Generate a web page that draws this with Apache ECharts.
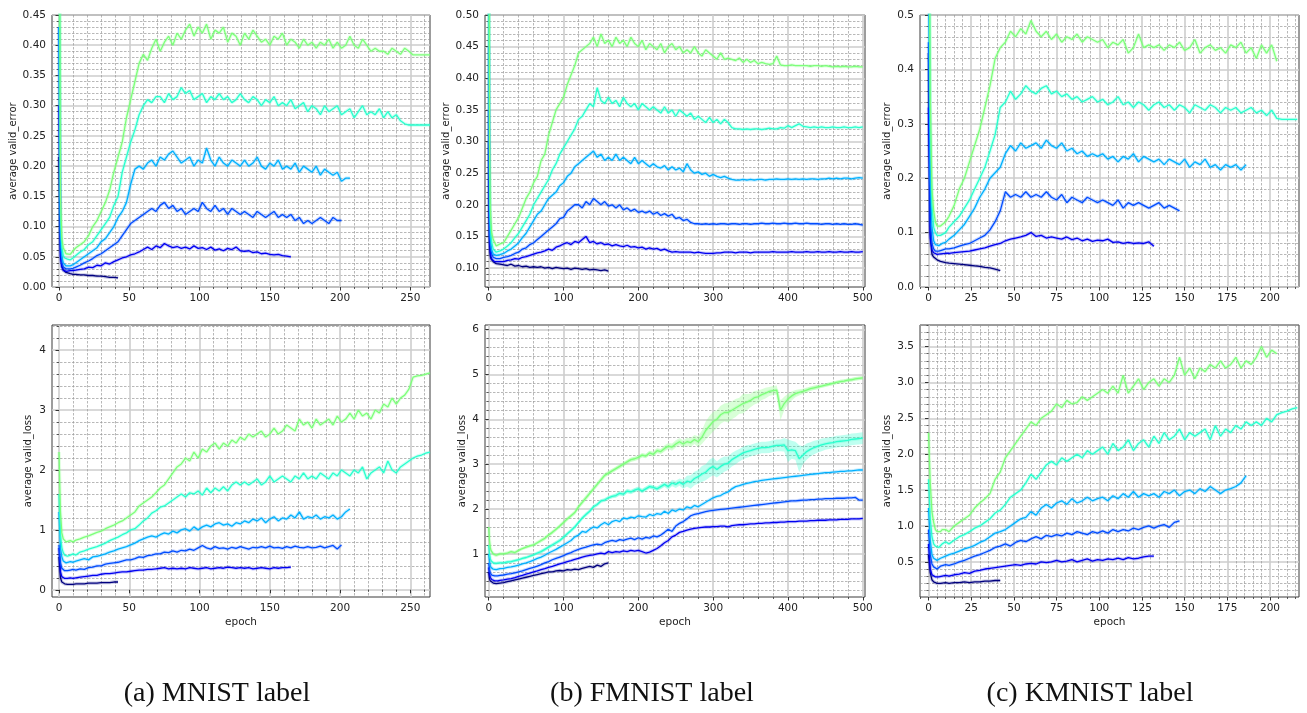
<!DOCTYPE html>
<html><head><meta charset="utf-8">
<script src="https://cdn.jsdelivr.net/npm/echarts@6/dist/echarts.min.js"></script>
<style>html,body{margin:0;padding:0;background:#fff}#c{width:1307px;height:713px}</style>
</head><body><div id="c"></div>
<script>
// ---------------- colours (navy -> light green, jet-like) ----------------
const COLORS = ['#00007f','#0000f1','#004cff','#00b0ff','#29ffce','#7dff7a'];

// ---------------- epochs (sample positions) ----------------
const E_M = [0,1,2,3,4,5,6,8,10,12,15,18,21,24,27,30,33,36,39,42,45,48,51,54,57,60,63,66,69,72,75,78,81,84,87,90,93,96,99,102,105,108,111,114,117,120,123,126,129,132,135,138,141,144,147,150,153,156,159,162,165,168,171,174,177,180,183,186,189,192,195,198,201,204,207,210,213,216,219,222,225,228,231,234,237,240,243,246,249,252,255,258,261,264];
const E_F = [0,1,2,3,4,6,8,10,12,15,20,25,30,35,40,45,50,55,60,65,70,75,80,85,90,95,100,105,110,115,120,125,130,135,140,145,150,155,160,165,170,175,180,185,190,195,200,205,210,215,220,225,230,235,240,245,250,255,260,265,270,275,280,285,290,295,300,305,310,315,320,325,330,335,340,345,350,355,360,365,370,375,380,385,390,395,400,405,410,415,420,425,430,435,440,445,450,455,460,465,470,475,480,485,490,495,500];
const E_K = [0,1,2,3,4,5,6,7,8,10,12,15,18,21,24,27,30,33,36,39,42,45,48,51,54,57,60,63,66,69,72,75,78,81,84,87,90,93,96,99,102,105,108,111,114,117,120,123,126,129,132,135,138,141,144,147,150,153,156,159,162,165,168,171,174,177,180,183,186,189,192,195,198,201,204,207,210,213,216];

// ---------------- tick labels ----------------
const xTicksM = [0,50,100,150,200,250];
const xTicksF = [0,100,200,300,400,500];
const xTicksK = [0,25,50,75,100,125,150,175,200];
const yTicksErrM = [0,0.05,0.10,0.15,0.20,0.25,0.30,0.35,0.40,0.45];
const yTicksErrF = [0.10,0.15,0.20,0.25,0.30,0.35,0.40,0.45,0.50];
const yTicksErrK = [0,0.1,0.2,0.3,0.4,0.5];
const yTicksLossM = [0,1,2,3,4];
const yTicksLossF = [1,2,3,4,5,6];
const yTicksLossK = [0.5,1.0,1.5,2.0,2.5,3.0,3.5];

// ---------------- MNIST valid error ----------------
const mErrNavy = [0.215,0.06,0.035,0.028,0.025,0.024,0.023,0.022,0.021,
0.021,0.02,0.02,0.019,0.019,0.018,0.018,0.017,0.016,0.016,0.015];
const mErrBlue = [0.3,0.05,0.033,0.028,0.027,0.026,0.026,0.027,0.027,
0.028,0.029,0.03,0.033,0.032,0.036,0.035,0.04,0.038,0.042,
0.045,0.048,0.05,0.053,0.055,0.058,0.062,0.066,0.062,0.068,
0.065,0.072,0.068,0.065,0.067,0.064,0.066,0.063,0.068,0.064,
0.065,0.062,0.066,0.061,0.063,0.06,0.064,0.062,0.066,0.06,
0.059,0.06,0.057,0.058,0.055,0.056,0.054,0.053,0.054,0.052,
0.051,0.05];
const mErrMed = [0.43,0.07,0.04,0.033,0.031,0.03,0.03,0.03,0.031,
0.033,0.036,0.04,0.043,0.047,0.052,0.055,0.06,0.065,0.07,
0.075,0.085,0.095,0.105,0.11,0.115,0.12,0.125,0.13,0.125,
0.135,0.14,0.13,0.135,0.125,0.13,0.12,0.125,0.13,0.125,
0.14,0.13,0.125,0.135,0.125,0.13,0.12,0.13,0.125,0.12,
0.125,0.12,0.115,0.125,0.12,0.115,0.12,0.125,0.115,0.12,
0.115,0.12,0.11,0.115,0.105,0.11,0.105,0.11,0.115,0.11,
0.105,0.115,0.11,0.11];
const mErrSky = [0.43,0.09,0.05,0.04,0.037,0.035,0.036,0.035,0.037,
0.04,0.045,0.05,0.055,0.06,0.065,0.075,0.08,0.09,0.10,
0.115,0.125,0.14,0.17,0.195,0.20,0.195,0.205,0.21,0.20,
0.215,0.21,0.22,0.225,0.215,0.205,0.21,0.215,0.20,0.21,
0.205,0.23,0.21,0.20,0.215,0.205,0.20,0.21,0.205,0.20,
0.21,0.20,0.205,0.215,0.20,0.195,0.205,0.20,0.21,0.195,
0.20,0.195,0.205,0.19,0.20,0.195,0.19,0.20,0.185,0.195,
0.19,0.185,0.19,0.175,0.18,0.18];
const mErrCyan = [0.85,0.12,0.065,0.052,0.048,0.045,0.046,0.045,0.048,
0.052,0.058,0.062,0.07,0.075,0.085,0.095,0.105,0.115,0.135,
0.15,0.19,0.215,0.24,0.26,0.285,0.30,0.31,0.305,0.315,
0.315,0.305,0.32,0.31,0.315,0.33,0.32,0.325,0.31,0.315,
0.32,0.305,0.315,0.31,0.32,0.31,0.315,0.305,0.31,0.32,
0.31,0.305,0.315,0.31,0.30,0.31,0.305,0.315,0.30,0.305,
0.30,0.31,0.295,0.30,0.305,0.29,0.30,0.295,0.285,0.30,
0.29,0.295,0.30,0.285,0.29,0.295,0.28,0.29,0.30,0.285,
0.29,0.285,0.295,0.28,0.29,0.28,0.285,0.275,0.27,0.268,
0.268,0.268,0.268,0.268,0.268];
const mErrGreen = [0.9,0.15,0.08,0.065,0.06,0.055,0.057,0.054,0.06,
0.065,0.07,0.075,0.085,0.1,0.11,0.125,0.14,0.16,0.19,
0.215,0.24,0.28,0.31,0.34,0.37,0.385,0.375,0.395,0.41,
0.39,0.405,0.415,0.40,0.42,0.41,0.425,0.435,0.415,0.43,
0.42,0.435,0.41,0.425,0.42,0.43,0.405,0.42,0.415,0.40,
0.42,0.41,0.425,0.415,0.405,0.41,0.40,0.415,0.41,0.42,
0.40,0.41,0.405,0.395,0.41,0.40,0.405,0.395,0.405,0.40,
0.41,0.395,0.405,0.395,0.40,0.415,0.40,0.395,0.41,0.40,
0.39,0.395,0.39,0.39,0.385,0.395,0.39,0.385,0.395,0.39,
0.384,0.384,0.384,0.384,0.384];

// ---------------- MNIST valid loss ----------------
const mLossNavy = [0.55,0.2,0.13,0.11,0.1,0.1,0.09,0.09,0.09,
0.1,0.1,0.1,0.11,0.11,0.11,0.12,0.12,0.12,0.13,0.13];
const mLossBlue = [0.7,0.3,0.22,0.2,0.19,0.19,0.19,0.2,0.19,
0.2,0.21,0.22,0.23,0.24,0.24,0.26,0.27,0.27,0.28,
0.29,0.3,0.3,0.31,0.32,0.33,0.33,0.34,0.34,0.35,
0.36,0.37,0.35,0.36,0.35,0.36,0.35,0.37,0.36,0.35,
0.36,0.37,0.35,0.36,0.37,0.36,0.38,0.37,0.36,0.37,
0.36,0.37,0.35,0.36,0.37,0.36,0.35,0.37,0.36,0.37,
0.37,0.38];
const mLossMed = [0.75,0.45,0.36,0.33,0.32,0.32,0.32,0.33,0.34,
0.33,0.35,0.34,0.37,0.38,0.4,0.4,0.43,0.44,0.45,
0.46,0.48,0.5,0.5,0.52,0.55,0.54,0.57,0.58,0.6,
0.6,0.63,0.62,0.65,0.63,0.66,0.65,0.68,0.66,0.7,
0.74,0.7,0.68,0.72,0.69,0.7,0.68,0.71,0.69,0.72,
0.7,0.68,0.71,0.7,0.72,0.7,0.73,0.7,0.71,0.69,
0.72,0.7,0.73,0.71,0.7,0.72,0.7,0.71,0.73,0.7,
0.72,0.74,0.68,0.75];
const mLossSky = [1.3,0.7,0.55,0.48,0.46,0.45,0.45,0.47,0.46,
0.48,0.5,0.52,0.5,0.55,0.56,0.58,0.6,0.63,0.65,
0.68,0.7,0.72,0.75,0.78,0.82,0.85,0.88,0.9,0.88,
0.92,0.95,0.93,0.98,0.95,1.0,1.02,0.98,1.05,1.0,
1.05,1.08,1.05,1.1,1.12,1.08,1.1,1.06,1.12,1.1,
1.15,1.12,1.18,1.15,1.2,1.12,1.18,1.22,1.15,1.2,
1.18,1.25,1.2,1.3,1.18,1.22,1.2,1.25,1.18,1.22,
1.2,1.25,1.18,1.22,1.3,1.35];
const mLossCyan = [1.6,0.9,0.7,0.62,0.58,0.57,0.56,0.58,0.6,
0.58,0.63,0.65,0.68,0.7,0.72,0.75,0.78,0.82,0.85,
0.88,0.92,0.95,1.0,1.02,1.08,1.15,1.2,1.28,1.32,
1.38,1.4,1.45,1.5,1.55,1.6,1.55,1.62,1.6,1.65,
1.58,1.7,1.62,1.7,1.65,1.72,1.65,1.75,1.8,1.75,
1.8,1.75,1.8,1.85,1.75,1.8,1.9,1.8,1.85,1.9,
1.85,1.8,1.9,1.85,1.95,1.85,1.9,1.85,1.95,1.9,
1.85,1.95,1.9,2.0,1.95,1.9,2.0,1.95,2.05,1.85,
1.95,2.0,2.05,1.95,2.15,2.0,1.95,2.05,2.1,2.15,
2.2,2.23,2.25,2.28,2.3];
const mLossGreen = [2.3,1.3,0.95,0.85,0.82,0.8,0.8,0.82,0.8,
0.83,0.85,0.88,0.9,0.93,0.96,0.98,1.02,1.05,1.08,
1.12,1.15,1.2,1.25,1.3,1.4,1.45,1.5,1.55,1.62,
1.7,1.75,1.85,1.95,2.05,2.1,2.2,2.15,2.3,2.2,
2.35,2.3,2.4,2.45,2.35,2.45,2.4,2.5,2.45,2.55,
2.5,2.6,2.55,2.6,2.65,2.55,2.6,2.7,2.6,2.65,
2.75,2.7,2.65,2.85,2.75,2.8,2.7,2.85,2.75,2.8,
2.85,2.75,2.9,2.8,2.85,2.95,2.85,3.0,2.9,2.95,
2.85,3.0,2.95,3.1,3.05,3.2,3.1,3.2,3.25,3.35,
3.55,3.57,3.58,3.6,3.62];

// ---------------- FMNIST valid error ----------------
const fErrNavy = [0.3,0.14,0.12,0.115,0.112,0.11,0.108,0.107,0.106,0.106,
0.105,0.104,0.106,0.103,0.104,0.102,0.103,0.101,0.102,0.101,
0.102,0.1,0.101,0.099,0.101,0.1,0.099,0.1,0.098,0.1,
0.099,0.098,0.099,0.097,0.098,0.097,0.096,0.097,0.095];
const fErrBlue = [0.35,0.15,0.125,0.118,0.114,0.112,0.11,0.11,0.11,0.11,
0.11,0.112,0.113,0.115,0.114,0.117,0.118,0.12,0.122,0.124,
0.125,0.127,0.13,0.128,0.133,0.135,0.138,0.14,0.137,0.142,
0.14,0.145,0.15,0.14,0.142,0.138,0.14,0.137,0.138,0.135,
0.137,0.135,0.134,0.136,0.133,0.134,0.132,0.133,0.13,0.132,
0.13,0.131,0.128,0.13,0.127,0.125,0.126,0.125,0.125,0.125,
0.125,0.124,0.125,0.124,0.123,0.123,0.123,0.124,0.124,0.125,
0.125,0.125,0.124,0.125,0.125,0.125,0.124,0.125,0.125,0.125,
0.125,0.125,0.126,0.125,0.125,0.125,0.125,0.126,0.125,0.125,
0.125,0.126,0.125,0.125,0.126,0.125,0.125,0.126,0.125,0.125,
0.126,0.125,0.125,0.126,0.125,0.125,0.126];
const fErrMed = [0.45,0.18,0.14,0.128,0.122,0.117,0.115,0.115,0.114,0.115,
0.117,0.118,0.12,0.123,0.125,0.13,0.132,0.137,0.14,0.145,
0.15,0.155,0.16,0.165,0.17,0.178,0.18,0.19,0.195,0.2,
0.2,0.195,0.205,0.2,0.21,0.205,0.2,0.205,0.198,0.2,
0.195,0.2,0.192,0.195,0.19,0.193,0.188,0.19,0.187,0.19,
0.185,0.188,0.183,0.186,0.182,0.185,0.178,0.18,0.175,0.177,
0.172,0.17,0.17,0.169,0.17,0.169,0.17,0.169,0.17,0.17,
0.169,0.17,0.17,0.169,0.17,0.17,0.169,0.17,0.17,0.171,
0.17,0.17,0.171,0.17,0.17,0.171,0.17,0.17,0.171,0.17,
0.17,0.171,0.17,0.17,0.17,0.169,0.17,0.17,0.169,0.17,
0.169,0.17,0.169,0.169,0.17,0.169,0.168];
const fErrSky = [0.6,0.2,0.15,0.135,0.128,0.122,0.12,0.12,0.12,0.121,
0.123,0.127,0.13,0.135,0.14,0.148,0.155,0.165,0.175,0.185,
0.19,0.2,0.21,0.215,0.22,0.23,0.235,0.245,0.25,0.26,
0.265,0.27,0.275,0.28,0.285,0.275,0.28,0.27,0.275,0.27,
0.28,0.27,0.275,0.27,0.265,0.275,0.265,0.27,0.265,0.26,
0.265,0.26,0.258,0.262,0.255,0.26,0.255,0.258,0.252,0.265,
0.255,0.25,0.252,0.248,0.25,0.245,0.248,0.245,0.243,0.245,
0.242,0.24,0.239,0.239,0.24,0.239,0.24,0.239,0.24,0.24,
0.239,0.24,0.24,0.241,0.24,0.24,0.241,0.24,0.241,0.24,
0.241,0.24,0.241,0.241,0.24,0.241,0.241,0.242,0.241,0.242,
0.241,0.242,0.242,0.241,0.242,0.243,0.242];
const fErrCyan = [0.85,0.25,0.18,0.15,0.14,0.13,0.127,0.125,0.125,0.127,
0.13,0.135,0.14,0.148,0.155,0.165,0.175,0.185,0.2,0.21,
0.22,0.23,0.24,0.255,0.265,0.28,0.29,0.3,0.31,0.32,
0.335,0.34,0.35,0.36,0.355,0.385,0.365,0.36,0.37,0.36,
0.365,0.355,0.37,0.36,0.355,0.36,0.35,0.36,0.355,0.35,
0.355,0.35,0.345,0.355,0.345,0.35,0.34,0.35,0.345,0.34,
0.345,0.335,0.34,0.335,0.33,0.338,0.33,0.335,0.328,0.335,
0.33,0.322,0.32,0.32,0.319,0.32,0.319,0.32,0.32,0.319,
0.32,0.321,0.32,0.32,0.322,0.321,0.325,0.322,0.325,0.328,
0.324,0.323,0.322,0.323,0.322,0.323,0.322,0.322,0.323,0.322,
0.322,0.323,0.322,0.322,0.323,0.322,0.323];
const fErrGreen = [0.9,0.3,0.2,0.17,0.155,0.145,0.14,0.135,0.135,0.138,
0.14,0.15,0.16,0.17,0.18,0.195,0.21,0.22,0.235,0.245,
0.27,0.28,0.31,0.33,0.35,0.36,0.37,0.39,0.405,0.42,
0.44,0.445,0.45,0.455,0.465,0.45,0.47,0.455,0.46,0.45,
0.465,0.455,0.46,0.45,0.465,0.455,0.45,0.46,0.445,0.455,
0.45,0.445,0.455,0.44,0.45,0.455,0.445,0.45,0.44,0.445,
0.44,0.45,0.44,0.435,0.445,0.44,0.435,0.43,0.44,0.43,
0.432,0.43,0.428,0.432,0.425,0.43,0.425,0.428,0.423,0.425,
0.423,0.422,0.423,0.435,0.421,0.42,0.42,0.421,0.42,0.42,
0.42,0.42,0.419,0.42,0.42,0.419,0.42,0.419,0.418,0.419,
0.418,0.419,0.418,0.418,0.419,0.418,0.418];

// ---------------- FMNIST valid loss ----------------
const fLossNavy = [0.6,0.45,0.4,0.37,0.36,0.35,0.34,0.34,0.35,0.35,
0.36,0.38,0.4,0.42,0.44,0.46,0.48,0.5,0.52,0.54,
0.56,0.58,0.6,0.6,0.62,0.63,0.62,0.65,0.64,0.66,
0.65,0.68,0.7,0.72,0.7,0.75,0.72,0.78,0.8];
const fLossBlue = [0.7,0.55,0.48,0.45,0.43,0.41,0.4,0.4,0.4,0.41,
0.42,0.44,0.45,0.47,0.5,0.52,0.55,0.57,0.6,0.62,
0.65,0.67,0.7,0.72,0.75,0.78,0.8,0.83,0.85,0.88,
0.9,0.93,0.95,0.97,0.98,1.0,1.02,1.0,1.05,1.03,
1.05,1.04,1.07,1.05,1.08,1.06,1.08,1.05,1.02,1.04,
1.08,1.12,1.18,1.25,1.3,1.38,1.42,1.48,1.5,1.53,
1.55,1.57,1.58,1.59,1.6,1.6,1.61,1.61,1.62,1.62,
1.6,1.63,1.64,1.65,1.65,1.66,1.67,1.67,1.68,1.68,
1.69,1.69,1.7,1.7,1.71,1.71,1.72,1.72,1.72,1.73,
1.73,1.73,1.74,1.74,1.75,1.75,1.75,1.76,1.76,1.76,
1.77,1.77,1.77,1.78,1.78,1.78,1.79];
const fLossMed = [0.8,0.65,0.58,0.55,0.53,0.52,0.51,0.5,0.51,0.52,
0.53,0.55,0.56,0.58,0.6,0.62,0.65,0.68,0.7,0.73,
0.76,0.8,0.83,0.87,0.9,0.93,0.96,1.0,1.03,1.07,
1.1,1.13,1.15,1.18,1.2,1.22,1.2,1.25,1.28,1.3,
1.28,1.32,1.3,1.33,1.35,1.32,1.36,1.33,1.37,1.35,
1.4,1.38,1.42,1.48,1.55,1.5,1.62,1.68,1.72,1.78,
1.85,1.88,1.9,1.92,1.94,1.96,1.97,1.98,1.99,2.0,
2.01,2.02,2.03,2.04,2.05,2.06,2.07,2.08,2.09,2.1,
2.11,2.12,2.13,2.14,2.15,2.16,2.17,2.18,2.18,2.19,
2.2,2.2,2.21,2.21,2.22,2.22,2.23,2.23,2.23,2.24,
2.24,2.24,2.25,2.25,2.26,2.2,2.2];
const fLossSky = [1.0,0.85,0.75,0.7,0.68,0.66,0.65,0.65,0.66,0.67,
0.68,0.7,0.71,0.73,0.75,0.78,0.8,0.83,0.86,0.9,
0.93,0.97,1.02,1.06,1.1,1.15,1.2,1.25,1.3,1.38,
1.42,1.5,1.48,1.55,1.6,1.58,1.65,1.7,1.65,1.72,
1.75,1.72,1.8,1.78,1.82,1.8,1.85,1.83,1.82,1.88,
1.85,1.9,1.88,1.95,1.9,1.98,1.95,2.0,1.98,2.05,
2.02,2.08,2.05,2.1,2.15,2.2,2.25,2.28,2.3,2.35,
2.38,2.45,2.5,2.52,2.55,2.57,2.59,2.61,2.62,2.64,
2.65,2.66,2.67,2.68,2.69,2.7,2.71,2.72,2.73,2.74,
2.75,2.76,2.77,2.78,2.79,2.8,2.81,2.81,2.82,2.83,
2.84,2.84,2.85,2.85,2.86,2.87,2.87];
const fLossCyan = [1.2,1.0,0.9,0.85,0.82,0.8,0.79,0.79,0.8,0.8,
0.8,0.82,0.83,0.85,0.87,0.9,0.92,0.95,0.98,1.02,
1.05,1.1,1.15,1.2,1.25,1.3,1.37,1.45,1.52,1.6,
1.7,1.8,1.88,1.95,2.05,2.1,2.18,2.2,2.25,2.28,
2.3,2.35,2.33,2.4,2.38,2.42,2.45,2.4,2.45,2.5,
2.48,2.45,2.5,2.55,2.5,2.58,2.55,2.6,2.55,2.62,
2.6,2.68,2.72,2.78,2.82,2.9,2.95,2.88,2.95,3.0,
3.02,3.1,3.15,3.2,3.25,3.28,3.3,3.33,3.35,3.37,
3.37,3.38,3.4,3.42,3.42,3.43,3.3,3.32,3.3,3.12,
3.2,3.28,3.33,3.37,3.4,3.43,3.45,3.47,3.48,3.5,
3.51,3.52,3.53,3.55,3.56,3.57,3.58];
const fLossCyanSpread = [0.03,0.03,0.03,0.03,0.03,0.03,0.03,0.03,0.03,0.03,
0.03,0.03,0.03,0.03,0.03,0.03,0.03,0.03,0.03,0.03,
0.04,0.04,0.04,0.04,0.04,0.04,0.04,0.04,0.04,0.04,
0.04,0.04,0.04,0.04,0.04,0.04,0.04,0.04,0.04,0.04,
0.05,0.05,0.05,0.05,0.05,0.05,0.05,0.05,0.05,0.05,
0.05,0.05,0.06,0.06,0.07,0.07,0.08,0.08,0.1,0.12,
0.15,0.15,0.15,0.18,0.18,0.2,0.2,0.18,0.18,0.17,
0.15,0.15,0.15,0.14,0.14,0.14,0.13,0.13,0.13,0.13,
0.13,0.13,0.13,0.13,0.13,0.15,0.25,0.2,0.2,0.3,
0.2,0.18,0.16,0.15,0.14,0.14,0.13,0.13,0.13,0.13,
0.13,0.13,0.13,0.13,0.13,0.13,0.13];
const fLossGreen = [1.6,1.3,1.15,1.08,1.04,1.0,0.98,0.97,0.98,1.0,
1.0,1.02,1.05,1.03,1.08,1.12,1.15,1.18,1.2,1.25,
1.3,1.35,1.42,1.48,1.55,1.62,1.7,1.78,1.85,1.92,
2.05,2.15,2.25,2.35,2.45,2.55,2.65,2.75,2.8,2.85,
2.9,2.95,3.0,3.05,3.1,3.12,3.15,3.2,3.18,3.25,
3.22,3.3,3.28,3.35,3.4,3.38,3.45,3.5,3.45,3.5,
3.48,3.55,3.5,3.6,3.75,3.85,3.95,4.0,4.1,4.15,
4.15,4.2,4.25,4.3,4.35,4.38,4.42,4.48,4.5,4.55,
4.58,4.62,4.64,4.65,4.2,4.35,4.45,4.52,4.57,4.6,
4.62,4.65,4.68,4.7,4.72,4.74,4.76,4.78,4.8,4.82,
4.84,4.85,4.87,4.88,4.9,4.91,4.92];
const fLossGreenSpread = [0.03,0.03,0.03,0.03,0.03,0.03,0.03,0.03,0.03,0.03,
0.03,0.03,0.03,0.03,0.03,0.03,0.03,0.03,0.03,0.03,
0.04,0.04,0.04,0.04,0.04,0.04,0.04,0.04,0.04,0.04,
0.05,0.05,0.05,0.05,0.05,0.05,0.05,0.05,0.05,0.05,
0.05,0.05,0.05,0.05,0.05,0.05,0.05,0.05,0.05,0.05,
0.06,0.06,0.06,0.07,0.07,0.08,0.08,0.08,0.08,0.09,
0.1,0.1,0.12,0.15,0.2,0.22,0.22,0.2,0.2,0.2,
0.22,0.2,0.2,0.18,0.22,0.18,0.15,0.15,0.14,0.12,
0.12,0.1,0.1,0.1,0.22,0.15,0.12,0.1,0.08,0.07,
0.06,0.06,0.05,0.05,0.05,0.04,0.04,0.04,0.04,0.04,
0.04,0.04,0.04,0.04,0.04,0.04,0.04];

// ---------------- KMNIST valid error ----------------
const kErrNavy = [0.43,0.1,0.06,0.055,0.052,0.05,0.048,0.047,0.046,0.045,
0.044,0.043,0.042,0.041,0.04,0.039,0.038,0.036,0.035,0.033,0.03];
const kErrBlue = [0.33,0.09,0.068,0.063,0.061,0.06,0.06,0.061,0.06,0.062,
0.062,0.063,0.064,0.065,0.066,0.068,0.07,0.072,0.075,0.078,
0.08,0.085,0.088,0.09,0.092,0.095,0.1,0.093,0.095,0.09,
0.092,0.09,0.088,0.092,0.087,0.09,0.085,0.088,0.084,0.086,
0.085,0.088,0.082,0.083,0.08,0.082,0.08,0.081,0.08,0.083,
0.075];
const kErrMed = [0.45,0.12,0.08,0.07,0.066,0.065,0.066,0.067,0.068,0.07,
0.07,0.072,0.075,0.078,0.08,0.085,0.09,0.095,0.105,0.12,
0.14,0.175,0.165,0.17,0.165,0.175,0.165,0.17,0.165,0.175,
0.165,0.16,0.17,0.155,0.165,0.16,0.155,0.165,0.16,0.155,
0.16,0.155,0.15,0.16,0.145,0.155,0.15,0.155,0.15,0.145,
0.15,0.155,0.145,0.15,0.145,0.14];
const kErrSky = [0.6,0.2,0.11,0.085,0.078,0.075,0.076,0.078,0.08,0.082,
0.088,0.095,0.105,0.115,0.13,0.145,0.165,0.18,0.2,0.21,
0.22,0.245,0.26,0.25,0.265,0.255,0.26,0.265,0.255,0.27,
0.26,0.255,0.265,0.25,0.255,0.245,0.25,0.24,0.245,0.24,
0.245,0.235,0.24,0.23,0.24,0.235,0.245,0.23,0.24,0.235,
0.23,0.235,0.225,0.235,0.23,0.225,0.235,0.22,0.23,0.225,
0.235,0.22,0.225,0.215,0.225,0.22,0.225,0.215,0.225];
const kErrCyan = [0.85,0.3,0.15,0.11,0.1,0.095,0.096,0.095,0.098,0.1,
0.11,0.12,0.13,0.145,0.16,0.18,0.2,0.22,0.25,0.28,
0.33,0.34,0.36,0.345,0.355,0.37,0.36,0.355,0.365,0.37,
0.355,0.36,0.35,0.355,0.345,0.35,0.34,0.345,0.35,0.34,
0.345,0.335,0.34,0.35,0.335,0.34,0.33,0.34,0.335,0.325,
0.335,0.34,0.33,0.335,0.325,0.335,0.33,0.32,0.335,0.33,
0.325,0.335,0.33,0.32,0.33,0.325,0.33,0.32,0.325,0.33,
0.32,0.325,0.315,0.325,0.31,0.308,0.308,0.308,0.308];
const kErrGreen = [0.9,0.35,0.18,0.14,0.12,0.112,0.11,0.112,0.11,0.12,
0.13,0.15,0.18,0.2,0.23,0.26,0.29,0.33,0.37,0.42,
0.44,0.45,0.47,0.46,0.475,0.465,0.49,0.47,0.46,0.47,
0.455,0.465,0.45,0.46,0.455,0.465,0.45,0.46,0.455,0.45,
0.455,0.44,0.45,0.445,0.455,0.43,0.44,0.465,0.44,0.445,
0.44,0.445,0.435,0.445,0.44,0.45,0.435,0.44,0.455,0.43,
0.44,0.445,0.435,0.44,0.43,0.445,0.44,0.45,0.43,0.44,
0.42,0.445,0.43,0.445,0.415];

// ---------------- KMNIST valid loss ----------------
const kLossNavy = [0.6,0.35,0.25,0.22,0.2,0.2,0.19,0.2,0.2,0.21,
0.2,0.21,0.21,0.22,0.21,0.22,0.22,0.23,0.23,0.24,0.24];
const kLossBlue = [0.75,0.4,0.32,0.3,0.29,0.28,0.29,0.3,0.3,0.31,
0.3,0.32,0.33,0.35,0.34,0.37,0.38,0.4,0.41,0.42,
0.43,0.44,0.45,0.46,0.45,0.47,0.48,0.47,0.5,0.49,
0.5,0.52,0.5,0.51,0.53,0.5,0.52,0.54,0.51,0.53,
0.52,0.54,0.53,0.55,0.53,0.56,0.54,0.55,0.57,0.58,
0.58];
const kLossMed = [0.95,0.6,0.47,0.43,0.41,0.4,0.42,0.44,0.45,0.46,
0.45,0.47,0.5,0.52,0.55,0.58,0.6,0.63,0.66,0.7,
0.72,0.75,0.72,0.77,0.8,0.78,0.82,0.85,0.82,0.87,
0.85,0.88,0.86,0.9,0.88,0.92,0.9,0.88,0.92,0.9,
0.93,0.9,0.95,0.92,0.95,0.93,0.97,0.95,0.98,1.0,
0.97,1.0,1.02,0.98,1.05,1.07];
const kLossSky = [1.25,0.8,0.6,0.55,0.53,0.52,0.52,0.55,0.56,0.58,
0.6,0.62,0.65,0.68,0.7,0.73,0.77,0.8,0.85,0.9,
0.92,0.95,1.0,1.05,1.1,1.12,1.2,1.15,1.25,1.3,
1.25,1.32,1.35,1.3,1.38,1.32,1.35,1.4,1.35,1.38,
1.4,1.35,1.42,1.38,1.45,1.4,1.48,1.4,1.45,1.42,
1.45,1.4,1.48,1.45,1.5,1.42,1.48,1.5,1.45,1.52,
1.48,1.55,1.5,1.45,1.5,1.52,1.55,1.6,1.7];
const kLossCyan = [1.65,1.1,0.85,0.75,0.72,0.7,0.7,0.72,0.75,0.78,
0.75,0.8,0.85,0.88,0.92,0.97,1.0,1.05,1.1,1.18,
1.22,1.3,1.4,1.45,1.5,1.6,1.72,1.65,1.75,1.85,
1.9,1.85,1.95,1.9,1.95,2.0,1.95,2.05,2.0,2.05,
2.1,2.0,2.15,2.05,2.1,2.2,2.05,2.15,2.2,2.1,
2.25,2.15,2.3,2.2,2.25,2.35,2.2,2.3,2.25,2.3,
2.35,2.2,2.4,2.25,2.35,2.3,2.4,2.35,2.45,2.4,
2.45,2.4,2.5,2.45,2.55,2.58,2.6,2.63,2.65];
const kLossGreen = [2.3,1.6,1.2,1.05,0.95,0.92,0.9,0.92,0.95,0.95,
0.92,1.0,1.05,1.1,1.15,1.25,1.32,1.38,1.45,1.65,
1.75,1.95,2.05,2.15,2.25,2.35,2.45,2.4,2.5,2.55,
2.6,2.7,2.65,2.75,2.7,2.72,2.8,2.75,2.8,2.85,
2.9,2.85,2.95,2.85,3.1,2.85,2.95,3.05,2.9,3.0,
3.05,2.95,3.05,3.0,3.1,3.35,3.1,3.2,3.05,3.2,
3.15,3.25,3.2,3.3,3.2,3.25,3.35,3.2,3.3,3.25,
3.35,3.5,3.35,3.45,3.4];

// ---------------- captions ----------------
const captions = ['(a) MNIST label','(b) FMNIST label','(c) KMNIST label'];

// ---------------- layout / styling ----------------
const FONT = 'DejaVu Sans';
const TXT = '#222222';
const panels = [
  {grid:{left:52,top:15,width:378,height:272}, x:[-5,264], y:[0,0.45], xt:xTicksM, xm:10, xd:0, yt:yTicksErrM, ym:0.01, yd:2, ep:E_M,
   s:[mErrNavy,mErrBlue,mErrMed,mErrSky,mErrCyan,mErrGreen], yname:'average valid_error', gap:35, xname:''},
  {grid:{left:485,top:15,width:380,height:272}, x:[-5,503], y:[0.07,0.50], xt:xTicksF, xm:20, xd:0, yt:yTicksErrF, ym:0.01, yd:2, ep:E_F,
   s:[fErrNavy,fErrBlue,fErrMed,fErrSky,fErrCyan,fErrGreen], yname:'average valid_error', gap:35, xname:''},
  {grid:{left:920,top:15,width:379,height:272}, x:[-5,217], y:[0,0.5], xt:xTicksK, xm:5, xd:0, yt:yTicksErrK, ym:0.02, yd:1, ep:E_K,
   s:[kErrNavy,kErrBlue,kErrMed,kErrSky,kErrCyan,kErrGreen], yname:'average valid_error', gap:29, xname:''},
  {grid:{left:52,top:325,width:378,height:272}, x:[-5,264], y:[-0.12,4.42], xt:xTicksM, xm:10, xd:0, yt:yTicksLossM, ym:0.2, yd:0, ep:E_M,
   s:[mLossNavy,mLossBlue,mLossMed,mLossSky,mLossCyan,mLossGreen], yname:'average valid_loss', gap:20, xname:'epoch'},
  {grid:{left:485,top:325,width:380,height:272}, x:[-5,503], y:[0.04,6.10], xt:xTicksF, xm:20, xd:0, yt:yTicksLossF, ym:0.2, yd:0, ep:E_F,
   s:[fLossNavy,fLossBlue,fLossMed,fLossSky,fLossCyan,fLossGreen], yname:'average valid_loss', gap:19, xname:'epoch',
   bands:[[fLossCyan,fLossCyanSpread,4],[fLossGreen,fLossGreenSpread,5]]},
  {grid:{left:920,top:325,width:379,height:272}, x:[-5,217], y:[0.01,3.80], xt:xTicksK, xm:5, xd:0, yt:yTicksLossK, ym:0.1, yd:1, ep:E_K,
   s:[kLossNavy,kLossBlue,kLossMed,kLossSky,kLossCyan,kLossGreen], yname:'average valid_loss', gap:29, xname:'epoch'}
];

function minorVals(lo, hi, step, majors) {
  const out = [];
  const k0 = Math.ceil(lo / step - 1e-9), k1 = Math.floor(hi / step + 1e-9);
  for (let k = k0; k <= k1; k++) {
    const v = +(k * step).toFixed(6);
    if (!majors.some(m => Math.abs(m - v) < 1e-9)) out.push(v);
  }
  return out;
}

const grids = [], xAxes = [], yAxes = [], series = [];
const majorSplit = {show:true, lineStyle:{color:'#cdcdcd', width:1.6}};
const minorSplit = {show:true, lineStyle:{color:'#9a9a9a', width:0.7, type:[2.5,1.5]}};
panels.forEach((p, i) => {
  grids.push(Object.assign({show:true, borderColor:'#3a3a3a', borderWidth:1, backgroundColor:'transparent', containLabel:false}, p.grid));
  const xMinor = minorVals(p.x[0], p.x[1], p.xm, p.xt);
  const yMinor = minorVals(p.y[0], p.y[1], p.ym, p.yt);
  xAxes.push({type:'value', gridIndex:i, min:p.x[0], max:p.x[1], position:'bottom',
    axisLine:{show:false},
    axisTick:{show:true, length:3.5, lineStyle:{color:'#333', width:1}, customValues:p.xt},
    axisLabel:{customValues:p.xt, formatter:v => v.toFixed(p.xd), fontSize:10.5, color:TXT, fontFamily:FONT, margin:6},
    splitLine:majorSplit,
    name:p.xname, nameLocation:'middle', nameGap:20, nameTextStyle:{fontSize:10.5, color:TXT, fontFamily:FONT}});
  xAxes.push({type:'value', gridIndex:i, min:p.x[0], max:p.x[1], position:'bottom',
    axisLine:{show:false},
    axisTick:{show:true, length:2, lineStyle:{color:'#333', width:0.8}, customValues:xMinor},
    axisLabel:{show:false}, splitLine:minorSplit});
  yAxes.push({type:'value', gridIndex:i, min:p.y[0], max:p.y[1], position:'left',
    axisLine:{show:false},
    axisTick:{show:true, length:3.5, lineStyle:{color:'#333', width:1}, customValues:p.yt},
    axisLabel:{customValues:p.yt, formatter:v => v.toFixed(p.yd), fontSize:10.5, color:TXT, fontFamily:FONT, margin:6},
    splitLine:majorSplit,
    name:p.yname, nameLocation:'middle', nameGap:p.gap - 1, nameTextStyle:{fontSize:10, color:TXT, fontFamily:FONT}});
  yAxes.push({type:'value', gridIndex:i, min:p.y[0], max:p.y[1], position:'left',
    axisLine:{show:false},
    axisTick:{show:true, length:2, lineStyle:{color:'#333', width:0.8}, customValues:yMinor},
    axisLabel:{show:false}, splitLine:minorSplit});
  const xi = 2 * i, yi = 2 * i;
  (p.bands || []).forEach(b => {
    const vals = b[0], spr = b[1], col = COLORS[b[2]];
    series.push({type:'custom', xAxisIndex:xi, yAxisIndex:yi, silent:true, animation:false, z:1, clip:true,
      data:[[p.ep[0], vals[0]]],
      renderItem:(params, api) => {
        const pts = [];
        for (let k = 0; k < vals.length; k++) pts.push(api.coord([p.ep[k], vals[k] + spr[k]]));
        for (let k = vals.length - 1; k >= 0; k--) pts.push(api.coord([p.ep[k], vals[k] - spr[k]]));
        return {type:'polygon', shape:{points:pts}, style:{fill:col, opacity:0.3}};
      }});
  });
  p.s.forEach((vals, j) => {
    const data = vals.map((v, k) => [p.ep[k], v]).filter(d => d[0] !== undefined);
    series.push({type:'line', xAxisIndex:xi, yAxisIndex:yi, data, symbol:'none', silent:true, animation:false, z:2,
      lineStyle:{color:COLORS[j], width:3.4, opacity:0.22}});
    series.push({type:'line', xAxisIndex:xi, yAxisIndex:yi, data, symbol:'none', silent:true, animation:false, z:3,
      lineStyle:{color:COLORS[j], width:1.3}});
  });
});

const capX = [217, 652, 1090];
const graphic = captions.map((t, i) => ({type:'text', x:capX[i], y:694,
  style:{text:t, fill:'#111', font:'28px "Liberation Serif"', textAlign:'center', textVerticalAlign:'middle'}}));

const chart = echarts.init(document.getElementById('c'), null, {renderer:'canvas'});
chart.setOption({
  animation:false,
  backgroundColor:'#ffffff',
  textStyle:{fontFamily:FONT},
  grid:grids, xAxis:xAxes, yAxis:yAxes, series, graphic
});
</script></body></html>
